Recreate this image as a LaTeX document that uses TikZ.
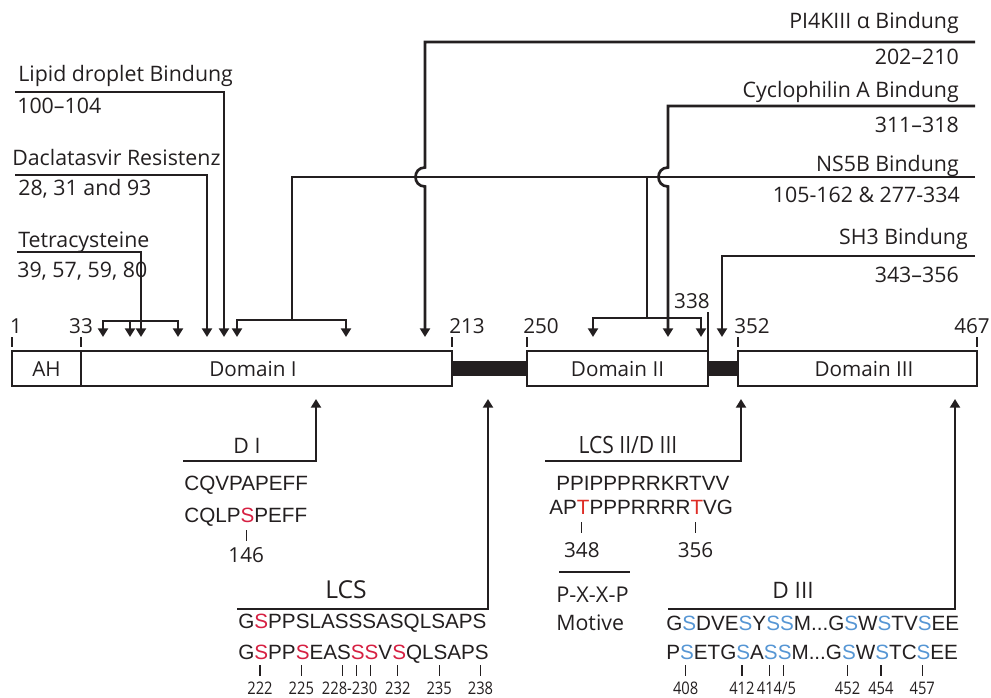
\documentclass[tikz,border=0pt]{standalone}
\usepackage{fontspec}
\usepackage{graphicx}
\setmainfont{Open Sans}
\newfontfamily\seqfam{Liberation Sans}
\usetikzlibrary{arrows.meta,calc}
\definecolor{ink}{RGB}{35,31,32}
\definecolor{sred}{RGB}{214,32,66}
\definecolor{tred}{RGB}{222,45,38}
\definecolor{sblue}{RGB}{86,150,212}
\newcommand\seqfont{\seqfam\fontsize{15.5}{18}\selectfont}
\newcommand\Rd[1]{\textcolor{sred}{#1}}
\newcommand\Tr[1]{\textcolor{tred}{#1}}
\newcommand\Bl[1]{\textcolor{sblue}{#1}}
\newcommand\nm[1]{\scalebox{0.85}[1]{#1}}
\newlength\seqpre
\newlength\seqlet
% measured inside a sequence node: #1 key, #2 prefix, #3 letter
\newcommand\mk[3]{%
  \settowidth{\seqpre}{#2}%
  \settowidth{\seqlet}{#3}%
  \addtolength{\seqpre}{0.5\seqlet}%
  \expandafter\xdef\csname swX#1\endcsname{\the\seqpre}}
% tick under a measured letter: #1 node, #2 key, #3 gap below baseline, #4 coordinate name
\newcommand\tk[4]{%
  \edef\tmpw{\csname swX#2\endcsname}%
  \draw[tickln] ([xshift=\tmpw]#1.base west) ++(0,#3) -- ++(0,11) coordinate (#4);}
\begin{document}
\begin{tikzpicture}[x=0.75pt,y=-0.75pt,line width=2pt,color=ink,
  lbl/.style={font=\fontsize{16}{19}\selectfont, inner sep=0pt},
  big/.style={font=\fontsize{18.5}{21}\selectfont, inner sep=0pt, anchor=base},
  barnum/.style={font=\fontsize{15.5}{18}\selectfont, inner sep=0pt, anchor=base},
  seq/.style={font=\seqfont, inner sep=0pt, anchor=base west},
  num/.style={font=\fontsize{13}{15}\selectfont, inner sep=0pt, anchor=base},
  mid/.style={font=\fontsize{15.5}{18}\selectfont, inner sep=0pt, anchor=base},
  arr/.style={-{Triangle[length=6.5pt,width=7.5pt]}},
  tickln/.style={line width=0.9pt},
  dombox/.style={draw=ink, fill=white, minimum height=26.25pt, inner sep=0pt},
  domtxt/.style={font=\fontsize{15.5}{18}\selectfont, inner sep=0pt},
  ]
\useasboundingbox (0,0) rectangle (991,698);

% ---------------- protein bar ----------------
\fill[ink] (452,361) rectangle (527,376);
\fill[ink] (708,361) rectangle (738,376);
\node[dombox, minimum width=51.75pt]  (ah)  at (46.5,368.5) {};
\node[dombox, minimum width=278.25pt] (d1)  at (266.5,368.5) {};
\node[dombox, minimum width=135.75pt] (d2)  at (617.5,368.5) {};
\node[dombox, minimum width=179.25pt] (d3)  at (857.5,368.5) {};
\node[domtxt] (ahT) at (46.5,369) {AH};
\node[domtxt] (d1T) at (253,369) {Domain I};
\node[domtxt] (d2T) at (617.5,369) {Domain II};
\node[domtxt] (d3T) at (864,369) {Domain III};

\foreach \x in {12,81,452,527,738,977} \draw[tickln] (\x,337) -- (\x,347);
\node[barnum] (n1)   at (16,333)  {1};
\node[barnum] (n33)  at (81,333)  {33};
\node[barnum] (n213) at (467,333) {213};
\node[barnum] (n250) at (541,333) {250};
\node[barnum] (n352) at (752,333) {352};
\node[barnum] (n467) at (972,333) {467};
\draw[tickln] (708,312) -- (708,351);
\node[barnum, anchor=base east] (n338) at (711,309) {338};

% ---------------- left labels ----------------
\node[lbl, anchor=base west] (lip)  at (17,82)  {Lipid droplet Bindung};
\node[lbl, anchor=base west] (lipR) at (16,114) {100–104};
\node[lbl, anchor=base west] (dac)  at (11,166) {Daclatasvir Resistenz};
\node[lbl, anchor=base west] (dacR) at (17,196) {28, 31 and 93};
\node[lbl, anchor=base west] (tet)  at (17,248) {Tetracysteine};
\node[lbl, anchor=base west] (tetR) at (16,277) {39, 57, 59, 80};

\draw[arr] (15,92) -- (224,92) -- (224,337);
\draw[arr] (15,175) -- (207,175) -- (207,337);
\draw[arr] (17,252) -- (141,252) -- (141,337);
\draw[arr] (141,321) -| (103,337);
\draw[arr] (141,321) -| (178,337);
\draw[arr] (130,321) -- (130,337);

% ---------------- right labels ----------------
\node[lbl, anchor=base east] (pi4)  at (960,29)  {PI4KIII α Bindung};
\node[lbl, anchor=base east] (pi4R) at (960,65)  {202–210};
\node[lbl, anchor=base east] (cyp)  at (960,98)  {Cyclophilin A Bindung};
\node[lbl, anchor=base east] (cypR) at (960,133) {311–318};
\node[lbl, anchor=base east] (ns5)  at (960,172) {NS5B Bindung};
\node[lbl, anchor=base east] (ns5R) at (961,203) {105-162 \& 277-334};
\node[lbl, anchor=base east] (sh3)  at (969,245) {SH3 Bindung};
\node[lbl, anchor=base east] (sh3R) at (960,283) {343–356};

% NS5B
\draw (975,177) -- (292,177) -- (292,320);
\draw[arr] (292,320) -| (237,337);
\draw[arr] (292,320) -| (346,337);
\draw[line width=1.5pt] (647,177) -- (647,318);
\draw[arr] (647,318) -| (593,337);
\draw[arr] (647,318) -| (701,337);
% PI4KIII alpha (with hop)
\draw[arr] (975,42) -- (425,42) -- (425,167.5)
  .. controls (412.3,167.5) and (412.3,186.5) .. (425,186.5) -- (425,337);
% Cyclophilin A (with hop)
\draw[arr] (975,106) -- (668,106) -- (668,167.5)
  .. controls (655.3,167.5) and (655.3,186.5) .. (668,186.5) -- (668,337);
% SH3
\draw[arr] (975,256) -- (722,256) -- (722,337);

% ---------------- D I ----------------
\node[lbl, anchor=base] (dI) at (247,453) {D I};
\draw[arr] (183,461) -- (316,461) -- (316,399);
\node[seq] (d1a) at (183,490) {CQVPAPEFF};
\node[seq] (d1b) at (183,522) {\mk{146}{CQLP}{S}CQLP\Rd{S}PEFF};
\tk{d1b}{146}{8}{t146}
\node[mid] (l146) at ($(t146)+(0,21)$) {146};

% ---------------- LCS ----------------
\node[big] (lcs) at (346,598) {LCS};
\draw[arr] (237,609) -- (488,609) -- (488,399);
\node[seq] (lca) at (237,628) {G\Rd{S}PPSLASSSASQLSAPS};
\node[seq] (lcb) at (237,659) {%
  \mk{222}{G}{S}\mk{225}{GSPP}{S}\mk{228}{GSPPSEA}{S}\mk{229}{GSPPSEAS}{S}%
  \mk{230}{GSPPSEASS}{S}\mk{232}{GSPPSEASSSV}{S}\mk{235}{GSPPSEASSSVSQL}{S}%
  \mk{238}{GSPPSEASSSVSQLSAP}{S}%
  G\Rd{S}PP\Rd{S}EAS\Rd{S}\Rd{S}V\Rd{S}QLSAPS};
\tk{lcb}{222}{6}{t222}
\tk{lcb}{225}{6}{t225}
\tk{lcb}{228}{6}{t228}
\tk{lcb}{229}{6}{t229}
\tk{lcb}{230}{6}{t230}
\tk{lcb}{232}{6}{t232}
\tk{lcb}{235}{6}{t235}
\tk{lcb}{238}{6}{t238}
\node[num] (l222) at ($(t222)+(0,18)$) {\nm{222}};
\node[num] (l225) at ($(t225)+(0,18)$) {\nm{225}};
\node[num] (l228) at ($($(t228)!0.5!(t229)$)+(0,18)$) {\nm{228-230}};
\node[num] (l232) at ($(t232)+(0,18)$) {\nm{232}};
\node[num] (l235) at ($(t235)+(0,18)$) {\nm{235}};
\node[num] (l238) at ($(t238)+(0,18)$) {\nm{238}};

% ---------------- LCS II / D III ----------------
\node[big] (lcs2) at (628,453) {\resizebox{74pt}{12.9pt}{LCS II/D III}};
\draw[arr] (545,461) -- (741,461) -- (741,399);
\node[seq] (l2a) at (555,490) {PPIPPPRRKRTVV};
\node[seq] (l2b) at (548,514) {\mk{348}{AP}{T}\mk{356}{APTPPPRRRR}{T}AP\Tr{T}PPPRRRR\Tr{T}VG};
\tk{l2b}{348}{8}{t348}
\tk{l2b}{356}{8}{t356}
\node[mid] (l348) at ($(t348)+(0,24)$) {348};
\node[mid] (l356) at ($(t356)+(0,24)$) {356};
\draw (559,572) -- (630,572);
\node[lbl, anchor=base west, font=\fontsize{16.3}{19}\selectfont] (pxxp) at (555,602) {P-X-X-P};
\node[lbl, anchor=base west] (mot) at (555,630) {Motive};

% ---------------- D III ----------------
\node[big, font=\fontsize{17}{20}\selectfont] (dIII) at (793,598) {D III};
\draw[arr] (668,609) -- (955,609) -- (955,399);
\node[seq] (d3a) at (665,630) {G\Bl{S}DVE\Bl{S}Y\Bl{S}\Bl{S}M...G\Bl{S}W\Bl{S}TV\Bl{S}EE};
\node[seq] (d3b) at (665,659) {%
  \mk{408}{P}{S}\mk{412}{PSETG}{S}\mk{414}{PSETGSA}{S}\mk{415}{PSETGSAS}{S}%
  \mk{452}{PSETGSASSM...G}{S}\mk{454}{PSETGSASSM...GSW}{S}\mk{457}{PSETGSASSM...GSWSTC}{S}%
  P\Bl{S}ETG\Bl{S}A\Bl{S}\Bl{S}M...G\Bl{S}W\Bl{S}TC\Bl{S}EE};
\tk{d3b}{408}{6}{t408}
\tk{d3b}{412}{6}{t412}
\tk{d3b}{414}{6}{t414}
\tk{d3b}{415}{6}{t415}
\tk{d3b}{452}{6}{t452}
\tk{d3b}{454}{6}{t454}
\tk{d3b}{457}{6}{t457}
\node[num] (l408) at ($(t408)+(0,18)$) {\nm{408}};
\node[num] (l412) at ($(t412)+(0,18)$) {\nm{412}};
\node[num] (l414) at ($($(t414)!0.5!(t415)$)+(0,18)$) {\nm{414/5}};
\node[num] (l452) at ($(t452)+(0,18)$) {\nm{452}};
\node[num] (l454) at ($(t454)+(0,18)$) {\nm{454}};
\node[num] (l457) at ($(t457)+(0,18)$) {\nm{457}};
\end{tikzpicture}
\end{document}
